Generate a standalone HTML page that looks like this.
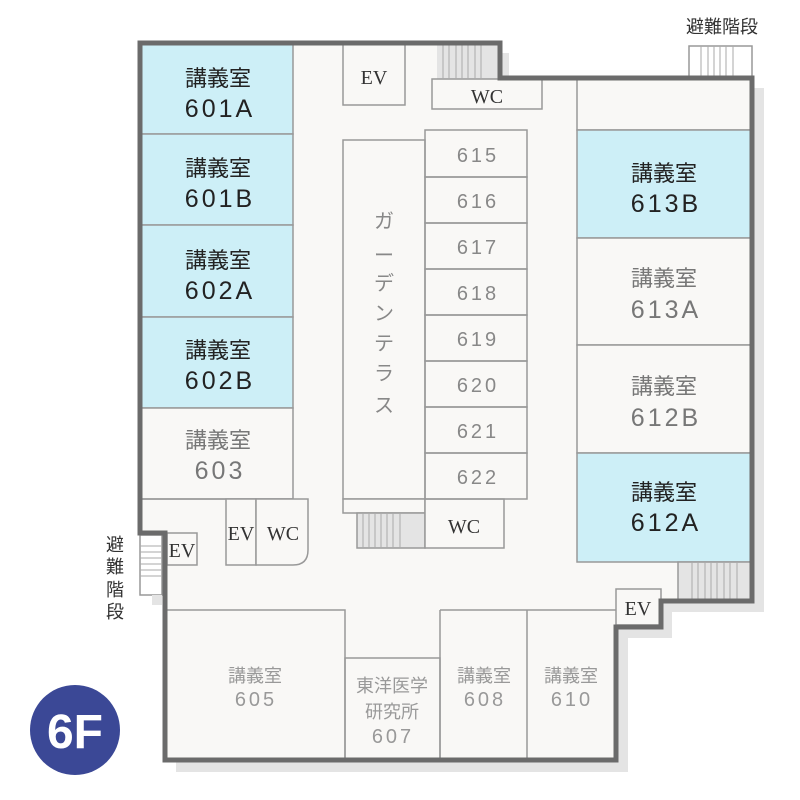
<!DOCTYPE html>
<html><head><meta charset="utf-8"><style>
html,body{margin:0;padding:0;background:#fff;}
svg{display:block}
.j{font-family:"Liberation Sans","Noto Sans CJK JP",sans-serif;}
.s{font-family:"Liberation Serif",serif;}
.n{letter-spacing:3px}
</style></head><body>
<svg width="800" height="800" viewBox="0 0 800 800" xmlns="http://www.w3.org/2000/svg">
<polygon points="150,53 509,53 509,88 764,88 764,612 672,612 672,638 628,638 628,772 176,772 176,544 150,544" fill="#e4e4e4"/>
<polygon points="140,43 500,43 500,78 752,78 752,601 661,601 661,627 616,627 616,760 165,760 165,533 140,533" fill="#f9f8f6"/>
<g stroke="#999" stroke-width="1.5" fill="none">
<rect x="141" y="44" width="152" height="90" fill="#cdeff7"/>
<rect x="141" y="134" width="152" height="91" fill="#cdeff7"/>
<rect x="141" y="225" width="152" height="92" fill="#cdeff7"/>
<rect x="141" y="317" width="152" height="91" fill="#cdeff7"/>
<rect x="141" y="408" width="152" height="91" fill="#f9f8f6"/>
<line x1="141" y1="499" x2="293" y2="499"/>
<rect x="226" y="499" width="30" height="66" fill="#f9f8f6"/>
<path d="M256,499 H308 V550 Q308,565 293,565 H256 Z" fill="#f9f8f6"/>
<rect x="167" y="533" width="30" height="32" fill="#f9f8f6"/>
<rect x="343" y="44" width="62" height="61" fill="#f9f8f6"/>
<rect x="437" y="44" width="62" height="35" fill="#e4e4e4" stroke="none"/>
<rect x="432" y="79" width="110" height="30" fill="#f9f8f6"/>
<rect x="343" y="140" width="82" height="359" fill="#f9f8f6"/>
<rect x="343" y="499" width="82" height="14" fill="#f9f8f6"/>
<rect x="357" y="513" width="68" height="35" fill="#e4e4e4"/>
<rect x="425" y="499" width="79" height="49" fill="#f9f8f6"/>
<rect x="425" y="130" width="102" height="47"/>
<rect x="425" y="177" width="102" height="46"/>
<rect x="425" y="223" width="102" height="46"/>
<rect x="425" y="269" width="102" height="46"/>
<rect x="425" y="315" width="102" height="46"/>
<rect x="425" y="361" width="102" height="46"/>
<rect x="425" y="407" width="102" height="46"/>
<rect x="425" y="453" width="102" height="46"/>
<rect x="577" y="79" width="174" height="51" fill="#f9f8f6"/>
<rect x="577" y="130" width="174" height="108" fill="#cdeff7"/>
<rect x="577" y="238" width="174" height="107" fill="#f9f8f6"/>
<rect x="577" y="345" width="174" height="108" fill="#f9f8f6"/>
<rect x="577" y="453" width="174" height="109" fill="#cdeff7"/>
<rect x="678" y="562" width="73" height="38" fill="#e4e4e4"/>
<line x1="440" y1="610" x2="616" y2="610"/>
<rect x="616" y="589" width="45" height="36" fill="#f9f8f6"/>
<rect x="166" y="610" width="179" height="150"/>
<rect x="345" y="658" width="95" height="102"/>
<line x1="440" y1="610" x2="440" y2="760"/>
<line x1="527" y1="610" x2="527" y2="760"/>
<rect x="689" y="46" width="63" height="31" fill="#fff"/>
<rect x="140" y="535" width="22" height="60" fill="#fff"/>
</g>
<rect x="152" y="595" width="10" height="10" fill="#e4e4e4"/>
<g stroke="#aaa" stroke-width="1">
<line x1="443" y1="44" x2="443" y2="79"/><line x1="449" y1="44" x2="449" y2="79"/><line x1="456" y1="44" x2="456" y2="79"/><line x1="462" y1="44" x2="462" y2="79"/><line x1="468" y1="44" x2="468" y2="79"/><line x1="475" y1="44" x2="475" y2="79"/><line x1="481" y1="44" x2="481" y2="79"/>
<line x1="363" y1="513" x2="363" y2="548"/><line x1="369" y1="513" x2="369" y2="548"/><line x1="375" y1="513" x2="375" y2="548"/><line x1="381" y1="513" x2="381" y2="548"/><line x1="387" y1="513" x2="387" y2="548"/><line x1="393" y1="513" x2="393" y2="548"/><line x1="400" y1="513" x2="400" y2="548"/>
<line x1="692" y1="562" x2="692" y2="600"/><line x1="698" y1="562" x2="698" y2="600"/><line x1="705" y1="562" x2="705" y2="600"/><line x1="711" y1="562" x2="711" y2="600"/><line x1="717" y1="562" x2="717" y2="600"/><line x1="724" y1="562" x2="724" y2="600"/><line x1="730" y1="562" x2="730" y2="600"/><line x1="737" y1="562" x2="737" y2="600"/>
<line x1="701" y1="46" x2="701" y2="77"/><line x1="708" y1="46" x2="708" y2="77"/><line x1="714" y1="46" x2="714" y2="77"/><line x1="720" y1="46" x2="720" y2="77"/><line x1="726" y1="46" x2="726" y2="77"/><line x1="733" y1="46" x2="733" y2="77"/>
<line x1="140" y1="546" x2="162" y2="546"/><line x1="140" y1="552" x2="162" y2="552"/><line x1="140" y1="558" x2="162" y2="558"/><line x1="140" y1="564" x2="162" y2="564"/><line x1="140" y1="570" x2="162" y2="570"/><line x1="140" y1="576" x2="162" y2="576"/>
</g>
<polygon points="140,43 500,43 500,78 752,78 752,601 661,601 661,627 616,627 616,760 165,760 165,533 140,533" fill="none" stroke="#6b6b6b" stroke-width="5"/>
<g class="j" text-anchor="middle" font-size="22" fill="#222">
<text x="218" y="86">講義室</text><text class="n" x="220" y="117" font-size="25">601A</text>
<text x="218" y="176">講義室</text><text class="n" x="220" y="207" font-size="25">601B</text>
<text x="218" y="268">講義室</text><text class="n" x="220" y="299" font-size="25">602A</text>
<text x="218" y="358">講義室</text><text class="n" x="220" y="389" font-size="25">602B</text>
<text x="664" y="181">講義室</text><text class="n" x="666" y="212" font-size="25">613B</text>
<text x="664" y="500">講義室</text><text class="n" x="666" y="531" font-size="25">612A</text>
</g>
<g class="j" text-anchor="middle" font-size="22" fill="#777">
<text x="218" y="448">講義室</text><text class="n" x="220" y="479" font-size="25">603</text>
<text x="664" y="286">講義室</text><text class="n" x="666" y="318" font-size="25">613A</text>
<text x="664" y="394">講義室</text><text class="n" x="666" y="426" font-size="25">612B</text>
</g>
<g class="j" text-anchor="middle" font-size="20" fill="#888">
<text class="n" x="478" y="162">615</text><text class="n" x="478" y="208">616</text><text class="n" x="478" y="254">617</text><text class="n" x="478" y="300">618</text><text class="n" x="478" y="346">619</text><text class="n" x="478" y="392">620</text><text class="n" x="478" y="438">621</text><text class="n" x="478" y="484">622</text>
<text x="384" y="228">ガ</text><text x="384" y="262">ー</text><text x="384" y="290">デ</text><text x="384" y="320">ン</text><text x="384" y="350">テ</text><text x="384" y="380">ラ</text><text x="384" y="412">ス</text>
</g>
<g class="j" text-anchor="middle" font-size="18" fill="#999">
<text x="255" y="682">講義室</text><text class="n" x="256" y="706" font-size="20">605</text>
<text x="392" y="692">東洋医学</text><text x="392" y="718">研究所</text><text class="n" x="393" y="743" font-size="20">607</text>
<text x="484" y="682">講義室</text><text class="n" x="485" y="706" font-size="20">608</text>
<text x="571" y="682">講義室</text><text class="n" x="572" y="706" font-size="20">610</text>
</g>
<g class="s" text-anchor="middle" font-size="20" fill="#333">
<text x="374" y="84">EV</text><text x="487" y="103">WC</text><text x="464" y="533">WC</text>
<text x="241" y="540">EV</text><text x="283" y="540">WC</text><text x="182" y="557">EV</text><text x="638" y="615">EV</text>
</g>
<g class="j" text-anchor="middle" font-size="18" fill="#333">
<text x="722" y="33">避難階段</text>
<text x="115" y="551">避</text><text x="115" y="573">難</text><text x="115" y="596">階</text><text x="115" y="618">段</text>
</g>
<circle cx="75" cy="730" r="45" fill="#3b4896"/>
<text x="75" y="748" text-anchor="middle" font-family="Liberation Sans,sans-serif" font-weight="bold" font-size="48" fill="#fff">6F</text>
</svg>
</body></html>
